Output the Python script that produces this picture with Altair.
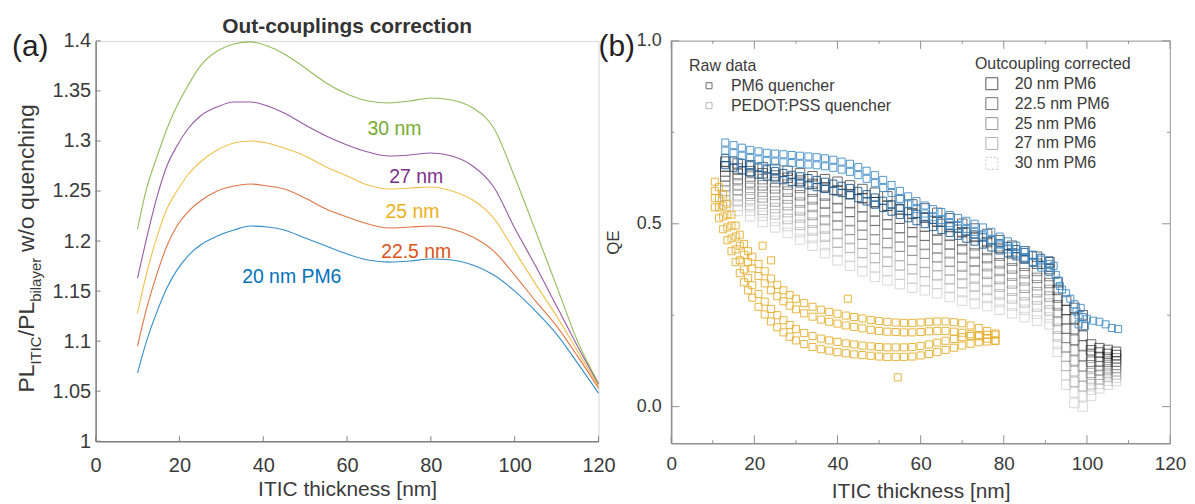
import altair as alt
import pandas as pd

FONT = "Liberation Sans"
TXT = "#3a3a3a"

# ---------------- Panel (a): out-coupling correction factors ----------------
a_x = [10, 12, 14.7, 17, 19.4, 22, 25, 29, 33, 37, 41, 45, 50, 55, 60, 65, 70, 75,
       80, 85, 90, 95, 100, 105, 110, 115, 120]
a_20 = [1.068, 1.098, 1.130, 1.153, 1.171, 1.185, 1.196, 1.205, 1.211, 1.215, 1.214, 1.211,
        1.203, 1.195, 1.187, 1.181, 1.179, 1.180, 1.182, 1.181, 1.176, 1.166, 1.150, 1.130,
        1.107, 1.078, 1.048]
a_225 = [1.095, 1.130, 1.168, 1.195, 1.215, 1.229, 1.240, 1.250, 1.255, 1.257, 1.255, 1.252,
         1.243, 1.232, 1.224, 1.217, 1.213, 1.214, 1.215, 1.212, 1.204, 1.190, 1.166, 1.140,
         1.115, 1.085, 1.053]
a_25 = [1.128, 1.165, 1.205, 1.232, 1.250, 1.266, 1.279, 1.291, 1.298, 1.300, 1.298, 1.293,
        1.285, 1.274, 1.265, 1.256, 1.252, 1.253, 1.254, 1.250, 1.241, 1.223, 1.190, 1.157,
        1.125, 1.090, 1.055]
a_27 = [1.163, 1.200, 1.245, 1.275, 1.295, 1.312, 1.325, 1.334, 1.339, 1.339, 1.335, 1.328,
        1.316, 1.305, 1.296, 1.289, 1.285, 1.286, 1.288, 1.285, 1.275, 1.254, 1.213, 1.175,
        1.135, 1.095, 1.057]
a_30 = [1.212, 1.250, 1.285, 1.312, 1.335, 1.355, 1.375, 1.390, 1.397, 1.399, 1.395, 1.387,
        1.373, 1.358, 1.347, 1.340, 1.338, 1.340, 1.343, 1.341, 1.333, 1.313, 1.264, 1.210,
        1.155, 1.100, 1.058]
a_names = ["20 nm PM6", "22.5 nm", "25 nm", "27 nm", "30 nm"]
a_colors = ["#0072BD", "#D95319", "#EDB120", "#7E2F8E", "#77AC30"]
a_label_x = [46.8, 76.5, 75.6, 76.5, 71.3]
a_label_y = [1.164, 1.189, 1.229, 1.264, 1.312]
a_xticks = [0, 20, 40, 60, 80, 100, 120]
a_yticks = [1, 1.05, 1.1, 1.15, 1.2, 1.25, 1.3, 1.35, 1.4]

# ---------------- Panel (b): QE scatter ----------------
# outcoupling corrected (two rows per thickness, read from the grey cloud)
g_x = [13, 16, 19, 22, 25, 28, 31, 34, 37, 40, 43, 46, 49, 52, 55, 58, 61, 64, 67, 70, 73,
       76, 79, 82, 85, 88, 91, 93, 95, 97, 99, 101, 103, 105, 107]
g20_a = [.670, .665, .660, .655, .650, .645, .638, .630, .622, .615, .605, .595, .585, .575, .565,
         .553, .542, .530, .515, .500, .487, .472, .455, .440, .425, .410, .395, .340, .290, .270,
         .250, .170, .160, .155, .150]
g20_b = [.657, .651, .644, .638, .632, .626, .618, .609, .600, .591, .581, .570, .559, .549, .539,
         .528, .517, .506, .491, .477, .464, .450, .434, .419, .405, .391, .376, .319, .264, .241,
         .222, .154, .148, .144, .141]
g225_a = [.643, .636, .629, .622, .614, .607, .598, .588, .577, .567, .556, .545, .534, .524, .514,
          .502, .492, .481, .467, .453, .441, .428, .413, .399, .385, .371, .357, .298, .239, .212,
          .194, .139, .136, .134, .132]
g225_b = [.630, .622, .613, .605, .597, .588, .578, .567, .555, .543, .532, .520, .508, .498, .488,
          .477, .467, .457, .443, .430, .419, .406, .392, .378, .365, .352, .338, .277, .213, .183,
          .167, .123, .123, .123, .123]
g25_a = [.617, .607, .598, .588, .579, .569, .558, .546, .532, .519, .507, .495, .483, .473, .463,
         .452, .442, .432, .419, .407, .396, .384, .371, .358, .345, .332, .319, .256, .188, .154,
         .139, .108, .111, .113, .114]
g25_b = [.603, .593, .582, .572, .561, .551, .537, .524, .510, .496, .483, .470, .457, .447, .437,
         .426, .418, .408, .396, .383, .373, .363, .349, .337, .325, .313, .301, .234, .162, .126,
         .111, .092, .099, .102, .106]
g27_a = [.590, .578, .567, .555, .543, .532, .517, .503, .487, .472, .458, .445, .432, .422, .412,
         .401, .393, .384, .372, .360, .350, .341, .328, .317, .305, .293, .282, .213, .137, .097,
         .083, .077, .087, .092, .097]
g27_b = [.577, .564, .551, .538, .526, .513, .497, .482, .465, .448, .434, .420, .406, .396, .386,
         .376, .368, .359, .348, .337, .328, .319, .307, .296, .285, .274, .263, .192, .111, .068,
         .056, .061, .074, .081, .088]
g30_a = [.563, .549, .536, .522, .508, .494, .477, .461, .442, .424, .409, .395, .381, .371, .361,
         .350, .343, .335, .324, .313, .305, .297, .286, .276, .265, .254, .244, .171, .086, .039,
         .028, .046, .062, .071, .079]
g30_b = [.550, .535, .520, .505, .490, .475, .457, .440, .420, .400, .385, .370, .355, .345, .335,
         .325, .318, .310, .300, .290, .282, .275, .265, .255, .245, .235, .225, .150, .060, .010,
         .000, .030, .050, .060, .070]
g_names = ["20 nm PM6", "22.5 nm PM6", "25 nm PM6", "27 nm PM6", "30 nm PM6"]
g_colors = ["#141414", "#444444", "#727272", "#9c9c9c", "#c4c4c4"]

# PM6 quencher (raw): two runs
b_x = [13, 15, 17, 19, 21, 23, 25, 27, 29, 31, 33, 35, 37, 39, 41, 43, 45, 47, 49, 51, 53, 55,
       57, 59, 61, 63, 65, 67, 69, 71, 73, 75, 77, 79, 81, 83, 85, 87, 89, 91]
b_up_a = [.722, .715, .708, .702, .698, .694, .692, .690, .688, .686, .684, .682, .679, .675, .670,
          .664, .655, .645, .633, .620, .606, .590, .575, .562, .550, .540, .532, .524, .516, .508,
          .500, .490, .478, .465, .452, .440, .428, .415, .402, .390]
b_up_b = [.700, .693, .686, .680, .676, .672, .670, .668, .666, .664, .662, .660, .657, .653, .648,
          .642, .633, .623, .611, .598, .584, .568, .553, .540, .528, .518, .510, .502, .494, .486,
          .478, .468, .456, .443, .430, .418, .406, .393, .380, .368]
b_lo_a = [.680, .673, .666, .660, .654, .649, .644, .639, .634, .630, .625, .620, .615, .610, .604,
          .598, .590, .581, .572, .563, .553, .544, .535, .527, .519, .511, .503, .495, .487, .479,
          .471, .463, .455, .447, .439, .431, .423, .415, .407, .400]
b_lo_b = [.660, .653, .646, .640, .634, .629, .624, .619, .614, .610, .605, .600, .595, .590, .584,
          .578, .570, .561, .552, .543, .533, .524, .515, .507, .499, .491, .483, .475, .467, .459,
          .451, .443, .435, .427, .419, .411, .403, .395, .387, .380]
b_tail_x = [92, 92.5, 93, 93.5, 94, 95, 96, 97, 97.5, 98, 98, 98.5, 99, 99.5, 100, 101.5, 103,
            104.5, 106, 107.5]
b_tail_y = [.385, .360, .345, .330, .320, .310, .295, .280, .260, .250, .225, .270, .245, .220,
            .240, .235, .232, .225, .215, .212]

# PEDOT:PSS quencher (raw): two runs
y_x = [10.5, 11.5, 12.5, 13.5, 14.5, 15.5, 16.5, 17.5, 18.5, 19.5, 21, 22.5, 24, 25.5, 27, 28.5,
       30, 32, 34, 36, 38, 40, 42, 44, 46, 48, 50, 52, 54, 56, 58, 60, 62, 64, 66, 68, 70, 72,
       74, 76, 78]
y_up_a = [.615, .600, .580, .555, .525, .495, .470, .445, .425, .410, .390, .370, .350, .333, .318,
          .305, .295, .283, .273, .265, .259, .254, .249, .245, .241, .237, .234, .232, .230, .229,
          .229, .230, .232, .233, .233, .231, .228, .222, .215, .207, .200]
y_up_b = [.590, .570, .550, .525, .495, .465, .440, .415, .395, .378, .357, .337, .318, .302, .288,
          .276, .266, .255, .246, .238, .232, .227, .222, .218, .214, .210, .207, .205, .204, .203,
          .203, .204, .206, .207, .207, .205, .202, .198, .192, .186, .180]
y_lo_a = [.570, .545, .520, .490, .460, .430, .400, .375, .352, .332, .308, .287, .267, .250, .236,
          .223, .212, .201, .193, .186, .181, .177, .173, .170, .167, .165, .163, .162, .162, .162,
          .163, .166, .170, .175, .180, .185, .190, .193, .195, .196, .197]
y_lo_b = [.545, .515, .485, .455, .425, .395, .365, .340, .318, .298, .273, .252, .233, .217, .203,
          .191, .181, .171, .163, .157, .153, .149, .146, .143, .141, .139, .137, .136, .136, .136,
          .137, .140, .144, .149, .155, .161, .167, .172, .176, .178, .180]
y_out_x = [22, 24, 42.5, 54.5]
y_out_y = [.440, .400, .295, .080]

b_xticks = [0, 20, 40, 60, 80, 100, 120]
b_xminor = [10, 30, 50, 70, 90, 110]
b_yticks = [0.0, 0.5, 1.0]
b_yminor = [0.25, 0.75]

W_A, H_A = 505, 402
W_B, H_B = 501, 404

# ---------------- build panel (a) ----------------
rows = []
for name, col, vals in zip(a_names, a_colors, [a_20, a_225, a_25, a_27, a_30]):
    for xv, yv in zip(a_x, vals):
        rows.append({"x": xv, "y": yv, "s": name, "c": col})
df_a = pd.DataFrame(rows)
xs_a = alt.Scale(domain=[0, 120], nice=False, zero=False)
ys_a = alt.Scale(domain=[1, 1.4], nice=False, zero=False)

lines = alt.Chart(df_a).mark_line(strokeWidth=1.1, interpolate="monotone", opacity=0.8).encode(
    x=alt.X("x:Q", scale=xs_a, axis=alt.Axis(
        values=a_xticks, format="d", title="ITIC thickness [nm]", ticks=False, grid=False,
        domainColor="#808080", domainWidth=1.5, labelFont=FONT, labelFontSize=20,
        labelColor=TXT, labelPadding=14, labelFlush=False, titleFont=FONT, titleFontSize=21,
        titleFontWeight="normal", titleColor=TXT, titlePadding=4)),
    y=alt.Y("y:Q", scale=ys_a, axis=alt.Axis(
        values=a_yticks, format="~g", title=None, ticks=False, grid=False,
        domainColor="#808080", domainWidth=1.5, labelFont=FONT, labelFontSize=20,
        labelColor=TXT, labelPadding=5)),
    color=alt.Color("c:N", scale=None),
    detail="s:N",
)

df_lab = pd.DataFrame({"x": a_label_x, "y": a_label_y, "s": a_names, "c": a_colors})
labels = alt.Chart(df_lab).mark_text(font=FONT, fontSize=19.5, align="center",
                                     baseline="middle").encode(
    x=alt.X("x:Q", scale=xs_a), y=alt.Y("y:Q", scale=ys_a), text="s:N",
    color=alt.Color("c:N", scale=None))

xt_a = alt.Chart(pd.DataFrame({"v": a_xticks})).mark_rule(color="#808080", strokeWidth=1).encode(
    x=alt.X("v:Q", scale=xs_a), y=alt.value(H_A), y2=alt.value(H_A - 5))
yt_a = alt.Chart(pd.DataFrame({"v": a_yticks})).mark_rule(color="#808080", strokeWidth=1).encode(
    y=alt.Y("v:Q", scale=ys_a), x=alt.value(0), x2=alt.value(5))


def txt(t, x, y, size, color=TXT, angle=None, align="left", baseline="alphabetic",
        weight="normal"):
    kw = dict(font=FONT, fontSize=size, color=color, align=align, baseline=baseline,
              fontWeight=weight)
    if angle is not None:
        kw["angle"] = angle
    return alt.Chart(pd.DataFrame({"t": [t]})).mark_text(**kw).encode(
        text="t:N", x=alt.value(x), y=alt.value(y))


ylab_parts = [
    txt("PL", -62, 353, 23, angle=270),
    txt("ITIC", -55, 325, 15, angle=270),
    txt("/PL", -62, 296.5, 23, angle=270),
    txt("bilayer", -55, 262, 15, angle=270),
    txt("w/o quenching", -62, 212, 23, angle=270),
]
tag_a = txt("(a)", -84, 6, 30, color="#222222", baseline="middle")
title_a = txt("Out-couplings correction", W_A / 2, -8, 21, color="#333333", align="center",
              weight="bold")

panel_a = alt.layer(lines, labels, xt_a, yt_a, *ylab_parts, tag_a, title_a).properties(
    width=W_A, height=H_A,
    view=alt.ViewBackground(stroke="#d6d6d6", strokeWidth=1),
)

# ---------------- build panel (b) ----------------
xs_b = alt.Scale(domain=[0, 120], nice=False, zero=False)
ys_b = alt.Scale(domain=[-0.1, 1.0], nice=False, zero=False)

grows = []
g_sets = [(g_names[0], g_colors[0], g20_a, g20_b), (g_names[1], g_colors[1], g225_a, g225_b),
          (g_names[2], g_colors[2], g25_a, g25_b), (g_names[3], g_colors[3], g27_a, g27_b),
          (g_names[4], g_colors[4], g30_a, g30_b)]
for name, col, ra, rb in reversed(g_sets):
    for r in (rb, ra):
        for xv, yv in zip(g_x, r):
            grows.append({"x": xv, "y": yv, "s": name, "c": col})
df_g = pd.DataFrame(grows)

gray = alt.Chart(df_g).mark_point(shape="square", filled=False, size=90, strokeWidth=0.9,
                                  opacity=0.7).encode(
    x=alt.X("x:Q", scale=xs_b, axis=alt.Axis(
        values=b_xticks, format="d", title="ITIC thickness [nm]", ticks=False, grid=False,
        domainColor="#909090", domainWidth=1.5, labelFont=FONT, labelFontSize=19,
        labelColor=TXT, labelPadding=11, labelFlush=False, titleFont=FONT, titleFontSize=21,
        titleFontWeight="normal", titleColor=TXT, titlePadding=8)),
    y=alt.Y("y:Q", scale=ys_b, axis=alt.Axis(
        values=b_yticks, format=".1f", title="QE", ticks=False, grid=False,
        domainColor="#909090", domainWidth=1.5, labelFont=FONT, labelFontSize=18,
        labelColor=TXT, labelPadding=10, titleFont=FONT, titleFontSize=17,
        titleFontWeight="normal", titleColor=TXT, titlePadding=14)),
    color=alt.Color("c:N", scale=None),
)


def pts(xl, yl, color, size=50, op=0.9):
    return alt.Chart(pd.DataFrame({"x": xl, "y": yl})).mark_point(
        shape="square", filled=False, size=size, strokeWidth=1, color=color, opacity=op).encode(
        x=alt.X("x:Q", scale=xs_b), y=alt.Y("y:Q", scale=ys_b))


BLUE_D, BLUE_L, YEL = "#1d5c92", "#3f8dc9", "#e6ae2c"
blue_lo = alt.layer(pts(b_x, b_lo_a, BLUE_D), pts(b_x, b_lo_b, BLUE_D))
blue_up = alt.layer(pts(b_x, b_up_a, BLUE_L), pts(b_x, b_up_b, BLUE_L),
                    pts(b_tail_x, b_tail_y, BLUE_L))
yel = alt.layer(pts(y_x, y_up_a, YEL), pts(y_x, y_up_b, YEL),
                pts(y_x, y_lo_a, YEL), pts(y_x, y_lo_b, YEL),
                pts(y_out_x, y_out_y, YEL))

TK = "#909090"
xt_b = alt.Chart(pd.DataFrame({"v": b_xticks})).mark_rule(color=TK).encode(
    x=alt.X("v:Q", scale=xs_b), y=alt.value(H_B), y2=alt.value(H_B - 8))
xm_b = alt.Chart(pd.DataFrame({"v": b_xminor})).mark_rule(color=TK).encode(
    x=alt.X("v:Q", scale=xs_b), y=alt.value(H_B), y2=alt.value(H_B - 3))
xt_bt = alt.Chart(pd.DataFrame({"v": b_xticks})).mark_rule(color=TK).encode(
    x=alt.X("v:Q", scale=xs_b), y=alt.value(0), y2=alt.value(8))
xm_bt = alt.Chart(pd.DataFrame({"v": b_xminor})).mark_rule(color=TK).encode(
    x=alt.X("v:Q", scale=xs_b), y=alt.value(0), y2=alt.value(3))
yt_b = alt.Chart(pd.DataFrame({"v": b_yticks})).mark_rule(color=TK).encode(
    y=alt.Y("v:Q", scale=ys_b), x=alt.value(0), x2=alt.value(8))
ym_b = alt.Chart(pd.DataFrame({"v": b_yminor})).mark_rule(color=TK).encode(
    y=alt.Y("v:Q", scale=ys_b), x=alt.value(0), x2=alt.value(3))
yt_br = alt.Chart(pd.DataFrame({"v": b_yticks})).mark_rule(color=TK).encode(
    y=alt.Y("v:Q", scale=ys_b), x=alt.value(W_B), x2=alt.value(W_B - 8))
ym_br = alt.Chart(pd.DataFrame({"v": b_yminor})).mark_rule(color=TK).encode(
    y=alt.Y("v:Q", scale=ys_b), x=alt.value(W_B), x2=alt.value(W_B - 3))


def sq(x, y, color, size, dash=None):
    kw = dict(shape="square", filled=False, size=size, strokeWidth=1, color=color, opacity=1)
    if dash:
        kw["strokeDash"] = dash
    return alt.Chart(pd.DataFrame({"t": [0]})).mark_point(**kw).encode(
        x=alt.value(x), y=alt.value(y))


LEG = 16
legend = [
    txt("Raw data", 18, 25, LEG, baseline="middle"),
    sq(38, 45, "#6a6a6a", 36), txt("PM6 quencher", 60, 45, LEG, baseline="middle"),
    sq(38, 65, "#b5b5b5", 36), txt("PEDOT:PSS quencher", 60, 65, LEG, baseline="middle"),
    txt("Outcoupling corrected", 305, 23, LEG, baseline="middle"),
]
leg_cols = ["#555555", "#737373", "#959595", "#b0b0b0", "#c8c8c8"]
for i, (nm, c) in enumerate(zip(g_names, leg_cols)):
    yy = 43 + 20 * i
    legend.append(sq(322, yy, c, 144, dash=[2, 2] if i == 4 else None))
    legend.append(txt(nm, 345, yy, LEG, baseline="middle"))

tag_b = txt("(b)", -73, 6, 30, color="#222222", baseline="middle")

panel_b = alt.layer(gray, blue_lo, blue_up, yel, xt_b, xm_b, xt_bt, xm_bt, yt_b, ym_b,
                    yt_br, ym_br, *legend, tag_b).properties(
    width=W_B, height=H_B,
    view=alt.ViewBackground(stroke="#a8a8a8", strokeWidth=1.2),
)

chart = alt.hconcat(panel_a, panel_b, spacing=73, bounds="flush").properties(
    padding={"left": 3, "top": 6, "right": 0, "bottom": 0},
    background="white",
)

chart.save("out.html", embed_options={"renderer": "svg", "actions": False})
